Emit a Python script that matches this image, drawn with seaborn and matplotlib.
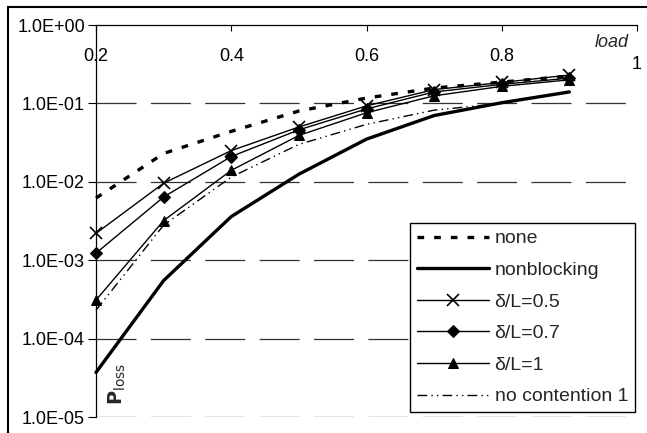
import numpy as np
import pandas as pd
import matplotlib
matplotlib.use("Agg")
import matplotlib.pyplot as plt
import matplotlib.transforms as mtransforms
from matplotlib.patches import Rectangle
import seaborn as sns

LOAD = [0.2, 0.3, 0.4, 0.5, 0.6, 0.7, 0.8, 0.9]

NONE = [6.2e-3, 2.3e-2, 4.4e-2, 8.0e-2, 1.17e-1, 1.57e-1, 1.87e-1, 2.23e-1]
NONBLOCKING = [3.7e-5, 5.5e-4, 3.6e-3, 1.25e-2, 3.5e-2, 7.0e-2, 1.02e-1, 1.4e-1]
DL_05 = [2.2e-3, 9.6e-3, 2.5e-2, 5.0e-2, 9.3e-2, 1.5e-1, 1.85e-1, 2.3e-1]
DL_07 = [1.23e-3, 6.4e-3, 2.1e-2, 4.6e-2, 8.5e-2, 1.4e-1, 1.75e-1, 2.1e-1]
DL_1 = [3.1e-4, 3.2e-3, 1.4e-2, 3.9e-2, 7.6e-2, 1.25e-1, 1.65e-1, 2.0e-1]
NO_CONTENTION = [2.3e-4, 2.8e-3, 1.15e-2, 3.0e-2, 5.4e-2, 8.2e-2, 1.0e-1, 1.4e-1]

SERIES_NAMES = ["none", "nonblocking", "δ/L=0.5", "δ/L=0.7", "δ/L=1", "no contention 1"]
X_TICKS = [0.2, 0.4, 0.6, 0.8, 1.0]
X_TICK_LABELS = ["0.2", "0.4", "0.6", "0.8", "1"]
Y_TICKS = [1e-5, 1e-4, 1e-3, 1e-2, 1e-1, 1e0]
Y_TICK_LABELS = ["1.0E-05", "1.0E-04", "1.0E-03", "1.0E-02", "1.0E-01", "1.0E+00"]

sns.set_theme(style="white")
plt.rcParams["font.family"] = ["Liberation Sans", "DejaVu Sans"]

data = pd.DataFrame({
    "load": LOAD * 6,
    "ploss": NONE + NONBLOCKING + DL_05 + DL_07 + DL_1 + NO_CONTENTION,
    "series": [name for name in SERIES_NAMES for _ in LOAD],
})

styles = {
    "none": dict(lw=2.4, linestyle=(0, (2.0, 3.0)), marker=None),
    "nonblocking": dict(lw=2.4, linestyle="-", marker=None),
    "δ/L=0.5": dict(lw=1.0, linestyle="-", marker="x", markersize=8.5, mew=1.2),
    "δ/L=0.7": dict(lw=1.0, linestyle="-", marker="D", markersize=6),
    "δ/L=1": dict(lw=1.0, linestyle="-", marker="^", markersize=7.5),
    "no contention 1": dict(lw=1.0, linestyle=(0, (7, 3, 1, 3, 1, 3)), marker=None),
}

fig = plt.figure(figsize=(6.47, 4.33), dpi=100)
ax = fig.add_axes([96 / 647, 1 - 417 / 433, (637 - 96) / 647, (417 - 25) / 433])

for name in SERIES_NAMES:
    subset = data[data["series"] == name]
    sns.lineplot(
        data=subset, x="load", y="ploss", ax=ax, label=name,
        color="black", markeredgecolor="black", clip_on=False,
        **styles[name],
    )

ax.set_yscale("log")
ax.set_xlim(0.2, 1.0)
ax.set_ylim(1e-5, 1)
ax.set_xticks(X_TICKS, X_TICK_LABELS)
ax.set_yticks(Y_TICKS, Y_TICK_LABELS)
ax.minorticks_off()
ax.set_xlabel("")
ax.set_ylabel("")

ax.tick_params(axis="x", top=True, bottom=False, labeltop=True, labelbottom=False,
               direction="in", length=4, width=0.8, pad=-29, labelsize=13, colors="black")
ax.tick_params(axis="y", left=True, direction="out", length=6, width=0.8,
               pad=2, labelsize=13, colors="black")

# last x tick label sits a bit lower
last = ax.get_xticklabels()[-1]
last.set_transform(last.get_transform() + mtransforms.ScaledTranslation(0, -8 / 100, fig.dpi_scale_trans))

for side in ["right", "bottom"]:
    ax.spines[side].set_visible(False)
for side in ["left", "top"]:
    ax.spines[side].set_color("black")
    ax.spines[side].set_linewidth(0.9)

for y in Y_TICKS[:-1]:
    ax.axhline(y, color="#333333", lw=0.9, linestyle=(0, (32, 11.5)), zorder=0)

ax.text(0.985, 0.955, "load", transform=ax.transAxes, ha="right", va="center",
        fontsize=13, style="italic")
ax.text(0.04, 0.085, r"$\mathbf{P}_{\mathrm{loss}}$", transform=ax.transAxes,
        rotation=90, ha="center", va="center", fontsize=14)

leg = ax.legend(loc="upper left", bbox_to_anchor=(410 / 647, 1 - 223 / 433),
                bbox_transform=fig.transFigure, borderaxespad=0, fontsize=14,
                handlelength=3.7, handletextpad=0.3, labelspacing=0.72,
                frameon=True, fancybox=False, borderpad=0.35)
leg.get_frame().set_edgecolor("black")
leg.get_frame().set_linewidth(1.0)
leg.get_frame().set_facecolor("white")
leg.get_frame().set_alpha(1)

fig.patches.append(Rectangle((8 / 647, -0.1), 2, 1.1 - 7 / 433, transform=fig.transFigure,
                             fill=False, edgecolor="black", lw=1.5, clip_on=False))

fig.savefig("out.png", dpi=100)
